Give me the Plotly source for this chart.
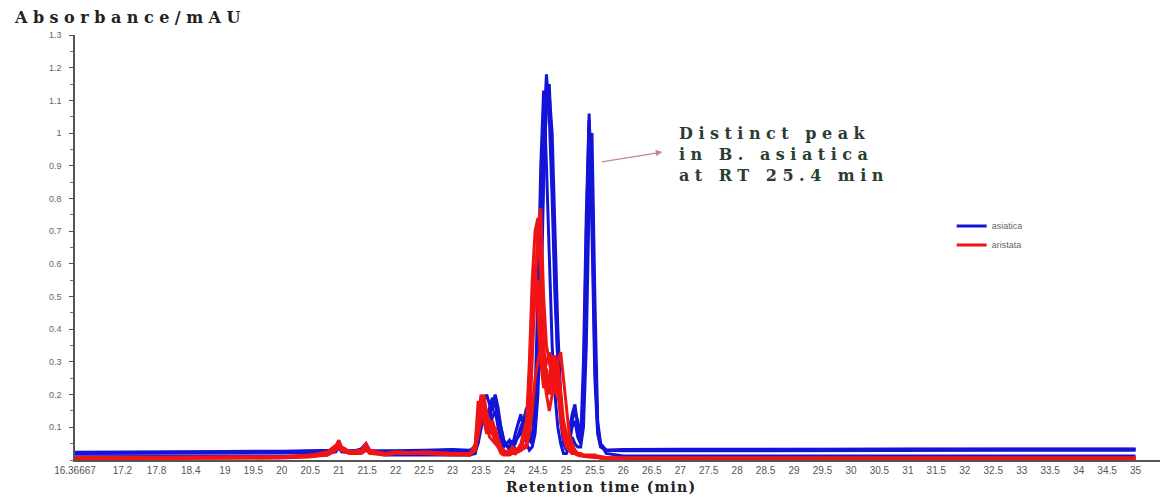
import plotly.graph_objects as go

# Retention time grid (min)
rt = [16.36667, 17.0, 18.0, 19.0, 20.0, 20.5, 20.8, 20.95, 21.0, 21.05,
      21.2, 21.4, 21.48, 21.55, 21.8, 22.0, 22.5, 23.0, 23.3, 23.4,
      23.45, 23.5, 23.55, 23.6, 23.65, 23.7, 23.75, 23.8, 23.85, 23.9,
      24.0, 24.05, 24.1, 24.2, 24.3, 24.35, 24.4, 24.45, 24.5, 24.55,
      24.6, 24.65, 24.7, 24.75, 24.8, 24.85, 24.9, 24.95, 25.0, 25.05,
      25.1, 25.15, 25.2, 25.25, 25.3, 25.35, 25.4, 25.45, 25.5, 25.55,
      25.6, 25.7, 26.0, 27.0, 28.0, 29.0, 30.0, 31.0, 32.0, 33.0,
      34.0, 35.0]

# B. asiatica runs (absorbance, mAU)
asiatica_1 = [0.024, 0.024, 0.025, 0.026, 0.027, 0.028, 0.028, 0.030, 0.035, 0.030,
              0.028, 0.030, 0.032, 0.028, 0.027, 0.028, 0.030, 0.032, 0.030, 0.040,
              0.090, 0.150, 0.120, 0.100, 0.160, 0.190, 0.170, 0.120, 0.080, 0.050,
              0.040, 0.060, 0.030, 0.030, 0.120, 0.060, 0.050, 0.120, 0.350, 0.700,
              1.000, 1.180, 1.050, 0.800, 0.500, 0.300, 0.180, 0.100, 0.060, 0.050,
              0.100, 0.120, 0.070, 0.050, 0.300, 0.750, 1.060, 0.700, 0.250, 0.080,
              0.040, 0.030, 0.032, 0.033, 0.033, 0.034, 0.034, 0.034, 0.035, 0.034,
              0.034, 0.034]
asiatica_2 = [0.010, 0.010, 0.010, 0.012, 0.012, 0.012, 0.015, 0.030, 0.060, 0.030,
              0.020, 0.035, 0.050, 0.025, 0.015, 0.015, 0.015, 0.015, 0.015, 0.020,
              0.060, 0.120, 0.180, 0.200, 0.170, 0.150, 0.190, 0.140, 0.100, 0.060,
              0.030, 0.040, 0.080, 0.140, 0.050, 0.030, 0.040, 0.080, 0.200, 0.450,
              0.850, 1.100, 1.150, 0.900, 0.550, 0.300, 0.120, 0.050, 0.030, 0.080,
              0.140, 0.170, 0.100, 0.060, 0.150, 0.600, 1.030, 0.900, 0.350, 0.100,
              0.050, 0.020, 0.012, 0.012, 0.012, 0.012, 0.012, 0.012, 0.012, 0.012,
              0.012, 0.012]
asiatica_3 = [0.020, 0.020, 0.020, 0.020, 0.022, 0.022, 0.022, 0.025, 0.040, 0.025,
              0.022, 0.025, 0.030, 0.022, 0.022, 0.022, 0.025, 0.028, 0.025, 0.030,
              0.050, 0.100, 0.140, 0.120, 0.100, 0.130, 0.150, 0.100, 0.060, 0.040,
              0.060, 0.040, 0.050, 0.100, 0.150, 0.080, 0.050, 0.200, 0.500, 0.900,
              1.130, 0.900, 0.600, 0.350, 0.200, 0.100, 0.050, 0.020, 0.020, 0.040,
              0.070, 0.050, 0.040, 0.040, 0.100, 0.350, 0.800, 1.000, 0.500, 0.120,
              0.050, 0.030, 0.028, 0.028, 0.028, 0.028, 0.030, 0.030, 0.030, 0.030,
              0.030, 0.030]
asiatica_4 = [0.022, 0.022, 0.023, 0.024, 0.025, 0.026, 0.026, 0.028, 0.050, 0.030,
              0.026, 0.030, 0.045, 0.027, 0.026, 0.027, 0.029, 0.030, 0.028, 0.035,
              0.070, 0.130, 0.160, 0.140, 0.120, 0.170, 0.200, 0.160, 0.100, 0.060,
              0.035, 0.050, 0.060, 0.080, 0.160, 0.100, 0.060, 0.100, 0.250, 0.550,
              0.900, 1.080, 1.120, 1.000, 0.700, 0.400, 0.200, 0.080, 0.040, 0.060,
              0.120, 0.150, 0.120, 0.070, 0.200, 0.700, 1.040, 0.800, 0.300, 0.090,
              0.045, 0.030, 0.030, 0.031, 0.031, 0.032, 0.032, 0.033, 0.033, 0.033,
              0.033, 0.033]

# B. aristata runs (absorbance, mAU)
aristata_1 = [0.005, 0.005, 0.005, 0.006, 0.008, 0.010, 0.015, 0.030, 0.050, 0.030,
              0.020, 0.025, 0.040, 0.020, 0.015, 0.020, 0.020, 0.020, 0.020, 0.030,
              0.120, 0.200, 0.150, 0.120, 0.080, 0.100, 0.070, 0.050, 0.030, 0.020,
              0.030, 0.020, 0.020, 0.030, 0.050, 0.100, 0.300, 0.550, 0.720, 0.770,
              0.500, 0.350, 0.300, 0.250, 0.200, 0.300, 0.200, 0.120, 0.080, 0.050,
              0.030, 0.030, 0.020, 0.020, 0.015, 0.015, 0.015, 0.015, 0.015, 0.012,
              0.010, 0.008, 0.006, 0.005, 0.005, 0.005, 0.005, 0.005, 0.005, 0.005,
              0.005, 0.005]
aristata_2 = [0.004, 0.004, 0.004, 0.005, 0.006, 0.010, 0.020, 0.040, 0.060, 0.040,
              0.025, 0.030, 0.045, 0.025, 0.020, 0.020, 0.025, 0.020, 0.015, 0.050,
              0.180, 0.150, 0.200, 0.140, 0.120, 0.090, 0.100, 0.060, 0.040, 0.030,
              0.020, 0.030, 0.020, 0.050, 0.120, 0.300, 0.550, 0.700, 0.740, 0.550,
              0.350, 0.200, 0.250, 0.320, 0.280, 0.200, 0.150, 0.100, 0.060, 0.040,
              0.030, 0.020, 0.015, 0.015, 0.015, 0.012, 0.012, 0.012, 0.010, 0.010,
              0.008, 0.006, 0.005, 0.005, 0.005, 0.005, 0.005, 0.005, 0.005, 0.005,
              0.005, 0.005]
aristata_3 = [0.006, 0.006, 0.006, 0.006, 0.008, 0.012, 0.020, 0.035, 0.045, 0.030,
              0.020, 0.030, 0.035, 0.020, 0.020, 0.025, 0.020, 0.020, 0.020, 0.040,
              0.100, 0.160, 0.120, 0.080, 0.120, 0.080, 0.060, 0.040, 0.030, 0.020,
              0.020, 0.040, 0.030, 0.040, 0.080, 0.200, 0.400, 0.500, 0.550, 0.400,
              0.250, 0.300, 0.330, 0.220, 0.300, 0.250, 0.150, 0.080, 0.050, 0.030,
              0.020, 0.020, 0.015, 0.015, 0.012, 0.012, 0.012, 0.010, 0.010, 0.008,
              0.006, 0.006, 0.005, 0.005, 0.005, 0.005, 0.005, 0.005, 0.005, 0.005,
              0.005, 0.005]
aristata_4 = [0.008, 0.008, 0.008, 0.008, 0.010, 0.015, 0.020, 0.030, 0.040, 0.030,
              0.020, 0.020, 0.030, 0.020, 0.020, 0.020, 0.020, 0.015, 0.015, 0.030,
              0.080, 0.120, 0.140, 0.100, 0.070, 0.060, 0.050, 0.040, 0.020, 0.015,
              0.015, 0.020, 0.020, 0.030, 0.040, 0.080, 0.150, 0.250, 0.300, 0.350,
              0.280, 0.200, 0.150, 0.200, 0.280, 0.300, 0.330, 0.250, 0.150, 0.080,
              0.050, 0.030, 0.020, 0.015, 0.012, 0.010, 0.010, 0.010, 0.008, 0.008,
              0.006, 0.006, 0.005, 0.005, 0.005, 0.005, 0.005, 0.005, 0.005, 0.005,
              0.005, 0.005]
aristata_5 = [0.007, 0.007, 0.007, 0.007, 0.009, 0.014, 0.025, 0.045, 0.055, 0.035,
              0.025, 0.030, 0.050, 0.030, 0.020, 0.020, 0.022, 0.020, 0.018, 0.045,
              0.150, 0.190, 0.170, 0.150, 0.100, 0.120, 0.090, 0.060, 0.035, 0.025,
              0.020, 0.025, 0.030, 0.040, 0.100, 0.250, 0.500, 0.600, 0.450, 0.300,
              0.220, 0.280, 0.200, 0.260, 0.320, 0.220, 0.120, 0.070, 0.040, 0.030,
              0.020, 0.020, 0.015, 0.012, 0.012, 0.010, 0.010, 0.010, 0.008, 0.008,
              0.006, 0.006, 0.005, 0.005, 0.005, 0.005, 0.005, 0.005, 0.005, 0.005,
              0.005, 0.005]

x_tick_vals = [16.36667, 17.2, 17.8, 18.4, 19, 19.5, 20, 20.5, 21, 21.5, 22, 22.5,
               23, 23.5, 24, 24.5, 25, 25.5, 26, 26.5, 27, 27.5, 28, 28.5, 29,
               29.5, 30, 30.5, 31, 31.5, 32, 32.5, 33, 33.5, 34, 34.5, 35]
x_tick_text = ["16.36667", "17.2", "17.8", "18.4", "19", "19.5", "20", "20.5", "21",
               "21.5", "22", "22.5", "23", "23.5", "24", "24.5", "25", "25.5", "26",
               "26.5", "27", "27.5", "28", "28.5", "29", "29.5", "30", "30.5", "31",
               "31.5", "32", "32.5", "33", "33.5", "34", "34.5", "35"]
y_tick_vals = [0.1, 0.2, 0.3, 0.4, 0.5, 0.6, 0.7, 0.8, 0.9, 1.0, 1.1, 1.2, 1.3]
y_tick_text = ["0.1", "0.2", "0.3", "0.4", "0.5", "0.6", "0.7", "0.8", "0.9", "1",
               "1.1", "1.2", "1.3"]

BLUE = "#1414d8"
RED = "#f01414"

fig = go.Figure()
blue_runs = [asiatica_3, asiatica_4, asiatica_2, asiatica_1]
red_runs = [aristata_4, aristata_5, aristata_3, aristata_2, aristata_1]

for i, ys in enumerate(blue_runs):
    fig.add_trace(go.Scatter(x=rt, y=ys, mode="lines", name="asiatica",
                             legendgroup="asiatica", showlegend=(i == 0),
                             line=dict(color=BLUE, width=3)))
for i, ys in enumerate(red_runs):
    fig.add_trace(go.Scatter(x=rt, y=ys, mode="lines", name="aristata",
                             legendgroup="aristata", showlegend=(i == 0),
                             line=dict(color=RED, width=3)))

SERIF = "DejaVu Serif"
fig.update_layout(
    width=1160, height=489,
    margin=dict(l=67, r=4, t=27, b=37),
    paper_bgcolor="white", plot_bgcolor="white",
    showlegend=True,
    legend=dict(x=0.805, y=0.585, xanchor="left", yanchor="top",
                font=dict(family="Liberation Sans", size=9, color="#666666"),
                bgcolor="rgba(0,0,0,0)", tracegroupgap=0, itemwidth=30),
    xaxis=dict(range=[16.36667, 35.5], tickmode="array", tickvals=x_tick_vals,
               ticktext=x_tick_text, tickangle=0, showgrid=False, zeroline=False,
               showline=True, linecolor="#555555", linewidth=1.5, ticks="",
               tickfont=dict(family="Liberation Sans", size=10, color="#555555")),
    yaxis=dict(range=[0, 1.3], tickmode="array", tickvals=y_tick_vals,
               ticktext=y_tick_text, showgrid=False, zeroline=False,
               showline=True, linecolor="#555555", linewidth=1.5,
               ticks="outside", ticklen=4, tickcolor="#555555", ticklabelstandoff=6,
               minor=dict(dtick=0.05, ticks="outside", ticklen=3, tickcolor="#777777"),
               tickfont=dict(family="Liberation Sans", size=9, color="#666666")),
    annotations=[
        dict(text='<span style="letter-spacing:5.5px">Absorbance/mAU</span>',
             xref="paper", yref="paper", x=-0.058, y=1.042, xanchor="left",
             yanchor="middle", showarrow=False,
             font=dict(family=SERIF, size=16, color="#222222", weight="bold")),
        dict(text='<span style="letter-spacing:1.2px">Retention time (min)</span>',
             xref="paper", yref="paper", x=0.483, y=0, yshift=-27,
             xanchor="center", yanchor="middle", showarrow=False,
             font=dict(family=SERIF, size=14, color="#222222", weight="bold")),
        dict(text='<span style="letter-spacing:5.5px">Distinct peak<br>in B. asiatica<br>at RT 25.4 min</span>',
             xref="x", yref="y", x=26.95, y=0.933, xanchor="left",
             yanchor="middle", align="left", showarrow=False,
             font=dict(family=SERIF, size=16, color="#2b3d33", weight="bold")),
        dict(text="", xref="x", yref="y", x=26.685, y=0.942, ax=-62, ay=10,
             showarrow=True, arrowhead=2, arrowsize=1, arrowwidth=1.3,
             arrowcolor="#c48a8a"),
    ],
)

fig.write_html("out.html")
